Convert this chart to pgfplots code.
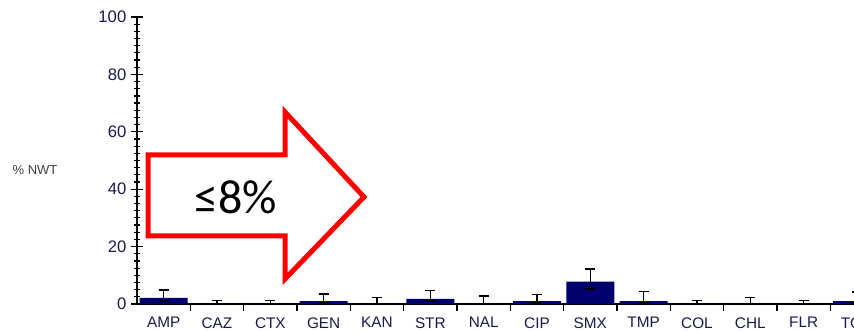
\documentclass[border=0pt]{standalone}
\usepackage{fontspec}
\setmainfont{Liberation Sans}
\newfontfamily\carlito{Carlito}
\usepackage{pgfplots}
\pgfplotsset{compat=1.18}
\usepackage{pgfplotstable}
\definecolor{barblue}{RGB}{0,0,110}
\definecolor{ticktext}{RGB}{25,25,75}
\definecolor{arrowred}{RGB}{255,0,0}
\pgfplotstableread{
x y ep em
0 2.1 2.8 1.1
1 0 1.3 0
2 0 1.3 0
3 1.0 2.5 0.7
4 0 2.3 0
5 1.8 2.9 0.8
6 0 2.8 0
7 1.0 2.4 0.7
8 7.8 4.4 2.6
9 1.0 3.3 0.7
10 0 1.2 0
11 0 2.2 0
12 0 1.3 0
13 1.0 3.2 0.7
}\datatable
\begin{document}
\begin{tikzpicture}
\useasboundingbox (0,0) rectangle (640.5pt,248.25pt);
\clip (0,0) rectangle (640.5pt,248.25pt);
\begin{axis}[
  at={(102.75pt,20.25pt)}, anchor=south west,
  scale only axis, width=560pt, height=215.25pt,
  xmin=-0.5, xmax=13.5, ymin=0, ymax=100,
  axis x line*=bottom, axis y line*=left,
  axis line style={line width=1pt, black},
  xtick={0,...,13},
  xticklabels={AMP,CAZ,CTX,GEN,KAN,STR,NAL,CIP,SMX,TMP,COL,CHL,FLR,TGC},
  minor xtick={0.5,1.5,...,13.5},
  major x tick style={draw=none},
  xtick align=center, ytick align=center,
  ytick={0,20,...,100}, minor y tick num=7,
  major tick length=9pt, minor tick length=5pt,
  tick style={black, line width=0.9pt},
  xticklabel style={font=\fontsize{11.5}{13}\selectfont, text=ticktext, yshift=2.5pt},
  yticklabel style={font=\fontsize{12.5}{14}\selectfont, text=ticktext},
  /pgf/number format/assume math mode=true,
  ylabel={\% NWT},
  ylabel style={at={(axis description cs:-0.1366,0.467)}, rotate=-90, anchor=center, font=\fontsize{9.75}{12}\selectfont, text=black!75},
  ybar, bar width=36pt,
]
\addplot[ybar, fill=barblue, draw=none,
  error bars/.cd, y dir=both, y explicit,
  error bar style={black, line width=1pt},
  error mark options={rotate=90, mark size=3.75pt, line width=1pt, black}]
  table[x=x, y=y, y error plus=ep, y error minus=em] {\datatable};
\end{axis}
\draw[arrowred, line width=3.75pt, fill=white, line join=miter]
  (111pt,132pt) -- (213.75pt,132pt) -- (213.75pt,164.25pt) -- (273pt,100.5pt)
  -- (213.75pt,39pt) -- (213.75pt,71.25pt) -- (111pt,71.25pt) -- cycle;
\node[font=\carlito\fontsize{36}{40}\selectfont, text=black] at (177pt,100.5pt) {≤8\%};
\end{tikzpicture}
\end{document}
